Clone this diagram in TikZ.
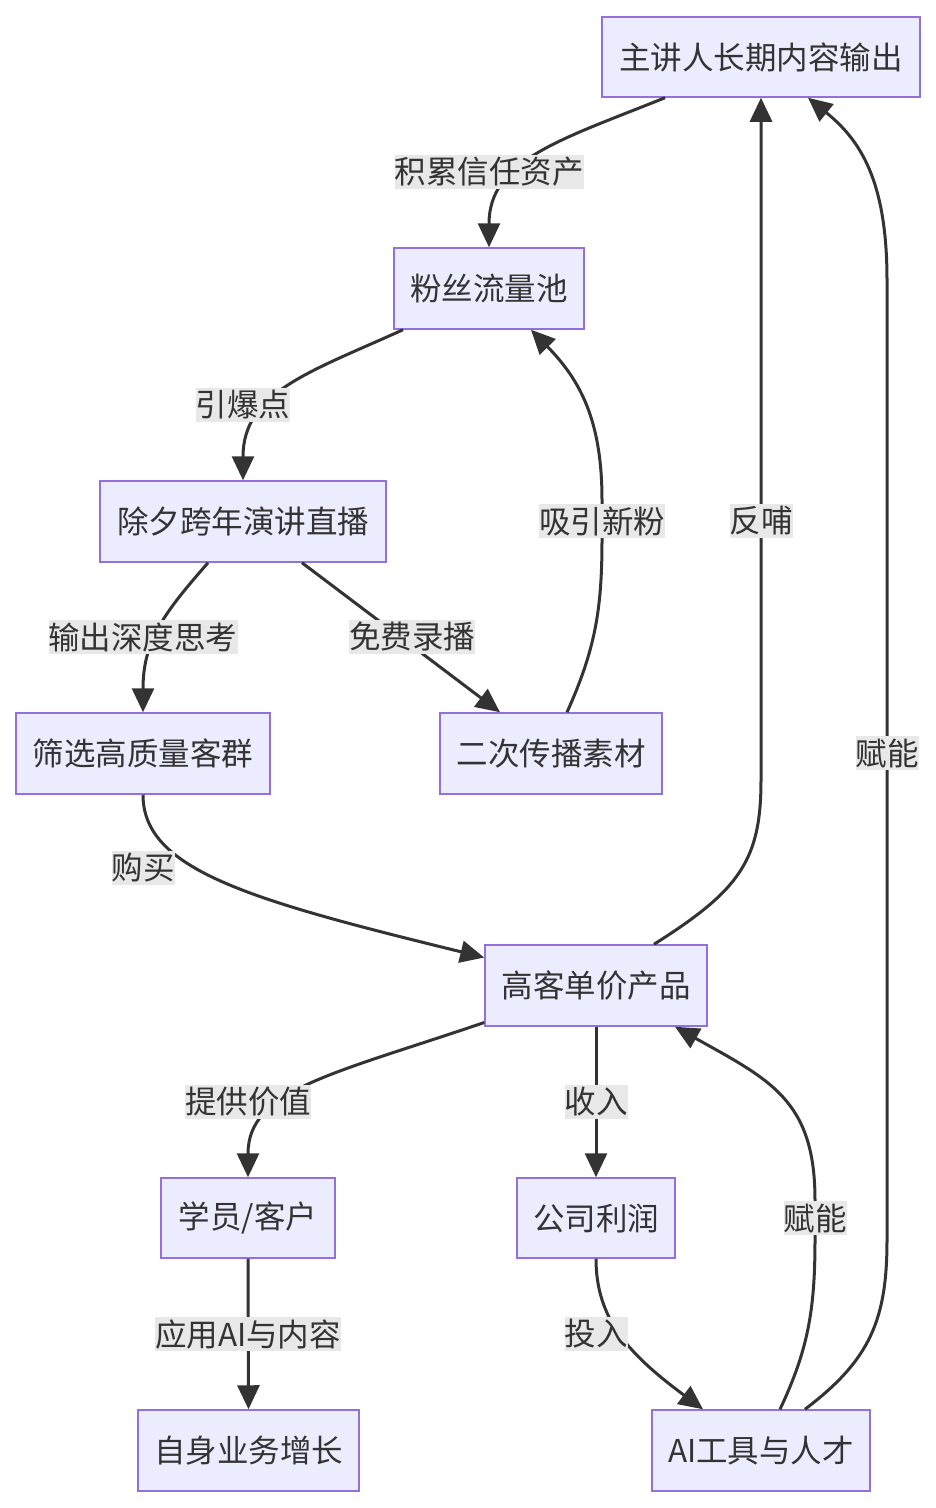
\documentclass[tikz,border=0pt]{standalone}
\usepackage{fontspec}
\setmainfont{Noto Sans CJK SC}
\usetikzlibrary{arrows.meta}
\definecolor{nodefill}{HTML}{ECECFF}
\definecolor{nodeline}{HTML}{9370DB}
\definecolor{edgecol}{HTML}{333333}
\definecolor{lblbg}{HTML}{E8E8E8}
\begin{document}
\begin{tikzpicture}[x=1pt,y=-1pt,
  box/.style={draw=nodeline, fill=nodefill, line width=1.5pt, inner sep=0pt,
    minimum height=80pt, text=edgecol, font=\fontsize{31.5}{36}\selectfont},
  lbl/.style={fill=lblbg, inner xsep=0pt, inner ysep=2.5pt, text=edgecol,
    font=\fontsize{31.5}{36}\selectfont},
  conn/.style={draw=edgecol, line width=3pt, -{Triangle[length=24pt,width=22pt]}},
]
\fill[white] (0,0) rectangle (936,1508);
\useasboundingbox (0,0) rectangle (936,1508);

% nodes
\node[box, minimum width=318pt] (A) at (761,57) {主讲人长期内容输出};
\node[box, minimum width=190pt, minimum height=81pt] (B) at (489,288.5) {粉丝流量池};
\node[box, minimum width=286pt, minimum height=81pt] (C) at (243,521.5) {除夕跨年演讲直播};
\node[box, minimum width=254pt, minimum height=81pt] (D) at (143,753.5) {筛选高质量客群};
\node[box, minimum width=222pt, minimum height=81pt] (E) at (551,753.5) {二次传播素材};
\node[box, minimum width=222pt, minimum height=81pt] (F) at (596,985.5) {高客单价产品};
\node[box, minimum width=174pt] (G) at (248,1218) {学员/客户};
\node[box, minimum width=158pt] (H) at (596,1218) {公司利润};
\node[box, minimum width=221pt, minimum height=81pt] (I) at (248.5,1450.5) {自身业务增长};
\node[box, minimum width=218pt, minimum height=81pt] (J) at (761,1450.5) {AI工具与人才};

% connectors
\draw[conn] ([xshift=-96pt]A.south) .. controls (560,140) and (489,160) .. (B.north);
\draw[conn] ([xshift=-86pt]B.south) .. controls (310,372) and (243,392) .. (C.north);
\draw[conn] ([xshift=-35pt]C.south) .. controls (165,612) and (143,640) .. (D.north);
\draw[conn] ([xshift=59pt]C.south) -- ([xshift=-51pt]E.north);
\draw[conn] ([xshift=16pt]E.north) .. controls (595,650) and (602,610) .. (602,540)
  -- (602,500) .. controls (602,420) and (580,380) .. ([xshift=42pt]B.south);
\draw[conn] (D.south) .. controls (143,870) and (250,900) .. ([yshift=28pt]F.west);
\draw[conn] ([xshift=58pt]F.north) .. controls (740,890) and (761,860) .. (761,780) -- (A.south);
\draw[conn] ([yshift=-37pt]F.west) .. controls (330,1075) and (248,1090) .. (G.north);
\draw[conn] (F.south) -- (H.north);
\draw[conn] (H.south) .. controls (596,1320) and (630,1355) .. ([xshift=-58pt]J.north);
\draw[conn] ([xshift=19pt]J.north) .. controls (808,1350) and (815,1310) .. (815,1240)
  -- (815,1200) .. controls (815,1100) and (770,1080) .. ([xshift=79pt]F.south);
\draw[conn] ([xshift=44pt]J.north) .. controls (870,1360) and (887,1320) .. (887,1240)
  -- (887,280) .. controls (887,180) and (860,140) .. ([xshift=47pt]A.south);
\draw[conn] (G.south) -- (I.north);

% edge labels
\node[lbl] (l1) at (489,172) {积累信任资产};
\node[lbl] (l2) at (243,405) {引爆点};
\node[lbl] (l3) at (143,637) {输出深度思考};
\node[lbl] (l4) at (412,637) {免费录播};
\node[lbl] (l5) at (602,521) {吸引新粉};
\node[lbl] (l6) at (143,868) {购买};
\node[lbl] (l7) at (761,521) {反哺};
\node[lbl] (l8) at (248,1102) {提供价值};
\node[lbl] (l9) at (596,1102) {收入};
\node[lbl] (l10) at (596,1334) {投入};
\node[lbl] (l11) at (815,1218) {赋能};
\node[lbl] (l12) at (887,753) {赋能};
\node[lbl] (l13) at (248,1334) {应用AI与内容};
\end{tikzpicture}
\end{document}
